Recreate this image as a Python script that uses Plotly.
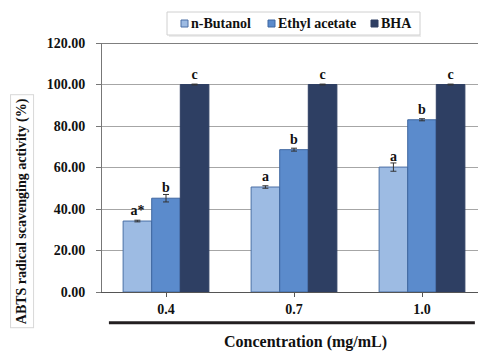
import plotly.graph_objects as go

categories = ["0.4", "0.7", "1.0"]
series_names = ["n-Butanol", "Ethyl acetate", "BHA"]
butanol = [34.2, 50.6, 60.2]
butanol_err = [0.4, 0.6, 2.0]
ethyl = [45.2, 68.6, 83.0]
ethyl_err = [1.8, 0.7, 0.5]
bha = [100.0, 100.0, 100.0]
bha_err = [0.2, 0.2, 0.2]
letters_butanol = ["a*", "a", "a"]
letters_ethyl = ["b", "b", "b"]
letters_bha = ["c", "c", "c"]
y_ticks = [0, 20, 40, 60, 80, 100, 120]

colors = ["#9dbbe3", "#5b8bcc", "#2e3f63"]
line_colors = ["#4a6fa5", "#3f67a0", "#2e3f63"]
FONT = "Liberation Serif"
label_font = dict(family=FONT, size=14, color="#111111", weight="bold")

fig = go.Figure()
for name, vals, errs, letters, c, lc in zip(
    series_names, [butanol, ethyl, bha], [butanol_err, ethyl_err, bha_err],
    [letters_butanol, letters_ethyl, letters_bha], colors, line_colors):
    fig.add_trace(go.Bar(
        name=name, x=categories, y=vals,
        marker=dict(color=c, line=dict(color=lc, width=1)),
        error_y=dict(type="data", array=errs, visible=True, color="#333333",
                     thickness=1, width=3),
        text=letters, textposition="outside",
        textfont=label_font, outsidetextfont=label_font,
        cliponaxis=False, showlegend=False,
    ))

# page body has an 8px default margin, so the figure is offset by 8px
fig.update_layout(
    width=486, height=353,
    margin=dict(l=94, r=8, t=35, b=69, autoexpand=False),
    paper_bgcolor="white", plot_bgcolor="white",
    barmode="group", bargap=0.33, bargroupgap=0,
    font=dict(family=FONT, color="#111111"),
    showlegend=False,
    xaxis=dict(
        categoryorder="array", categoryarray=categories,
        showline=True, linecolor="#555555", linewidth=1,
        ticks="outside", ticklen=4, tickcolor="#555555",
        tickfont=dict(family=FONT, size=14, color="#111111", weight="bold"),
        showgrid=False,
    ),
    yaxis=dict(
        range=[0, 120], tickvals=y_ticks,
        ticktext=[f"{v:.2f}" for v in y_ticks],
        showline=True, linecolor="#777777", linewidth=1,
        ticks="outside", ticklen=5, tickcolor="#777777",
        ticklabelstandoff=8,
        tickfont=dict(family=FONT, size=14, color="#111111", weight="bold"),
        showgrid=True, gridcolor="#a6a6a6", gridwidth=1,
        zeroline=False,
    ),
)

PW, PH = 384.0, 249.0
def px(v):
    return (v - 102) / PW
def py(v):
    return (292 - v) / PH

# custom compact legend: box, swatches, labels
fig.add_shape(type="rect", xref="paper", yref="paper",
              x0=px(167), x1=px(420), y0=py(35), y1=py(12),
              line=dict(color="#d0d0d0", width=1), fillcolor="white", layer="above")
fig.add_shape(type="line", xref="paper", yref="paper",
              x0=px(169), x1=px(421), y0=py(36), y1=py(36),
              line=dict(color="#ececec", width=2), layer="below")
swatch_x = [181, 268, 371]
for sx, n, c, lc in zip(swatch_x, series_names, colors, line_colors):
    fig.add_shape(type="rect", xref="paper", yref="paper",
                  x0=px(sx), x1=px(sx + 7), y0=py(27), y1=py(20),
                  line=dict(color=lc, width=1), fillcolor=c, layer="above")
    fig.add_annotation(
        text=f"<b>{n}</b>", xref="paper", yref="paper",
        x=px(sx + 8), y=py(23.5), xanchor="left", yanchor="middle",
        showarrow=False, font=dict(family=FONT, size=14, color="#111111"),
    )

# y-axis title in a bordered box
fig.add_annotation(
    text="<b>ABTS radical scavenging activity (%)</b>",
    xref="paper", yref="paper", x=-0.208, y=0.325, xanchor="center", yanchor="middle",
    textangle=-90, showarrow=False,
    font=dict(family=FONT, size=14, color="#111111"),
    bordercolor="#d8d8d8", borderwidth=1, borderpad=3, bgcolor="white",
)
# x-axis title
fig.add_annotation(
    text="<b>Concentration (mg/mL)</b>",
    xref="paper", yref="paper", x=0.53, y=py(342), xanchor="center", yanchor="middle",
    showarrow=False, font=dict(family=FONT, size=16, color="#111111"),
)
# thick rule under tick labels
fig.add_shape(type="line", xref="paper", yref="paper",
              x0=0.018, x1=0.971, y0=-0.123, y1=-0.123,
              line=dict(color="#231f20", width=3))
# darker top border at 120
fig.add_shape(type="line", xref="paper", yref="y", x0=0, x1=1, y0=120, y1=120,
              line=dict(color="#555555", width=1.5))

fig.write_html("out.html")
